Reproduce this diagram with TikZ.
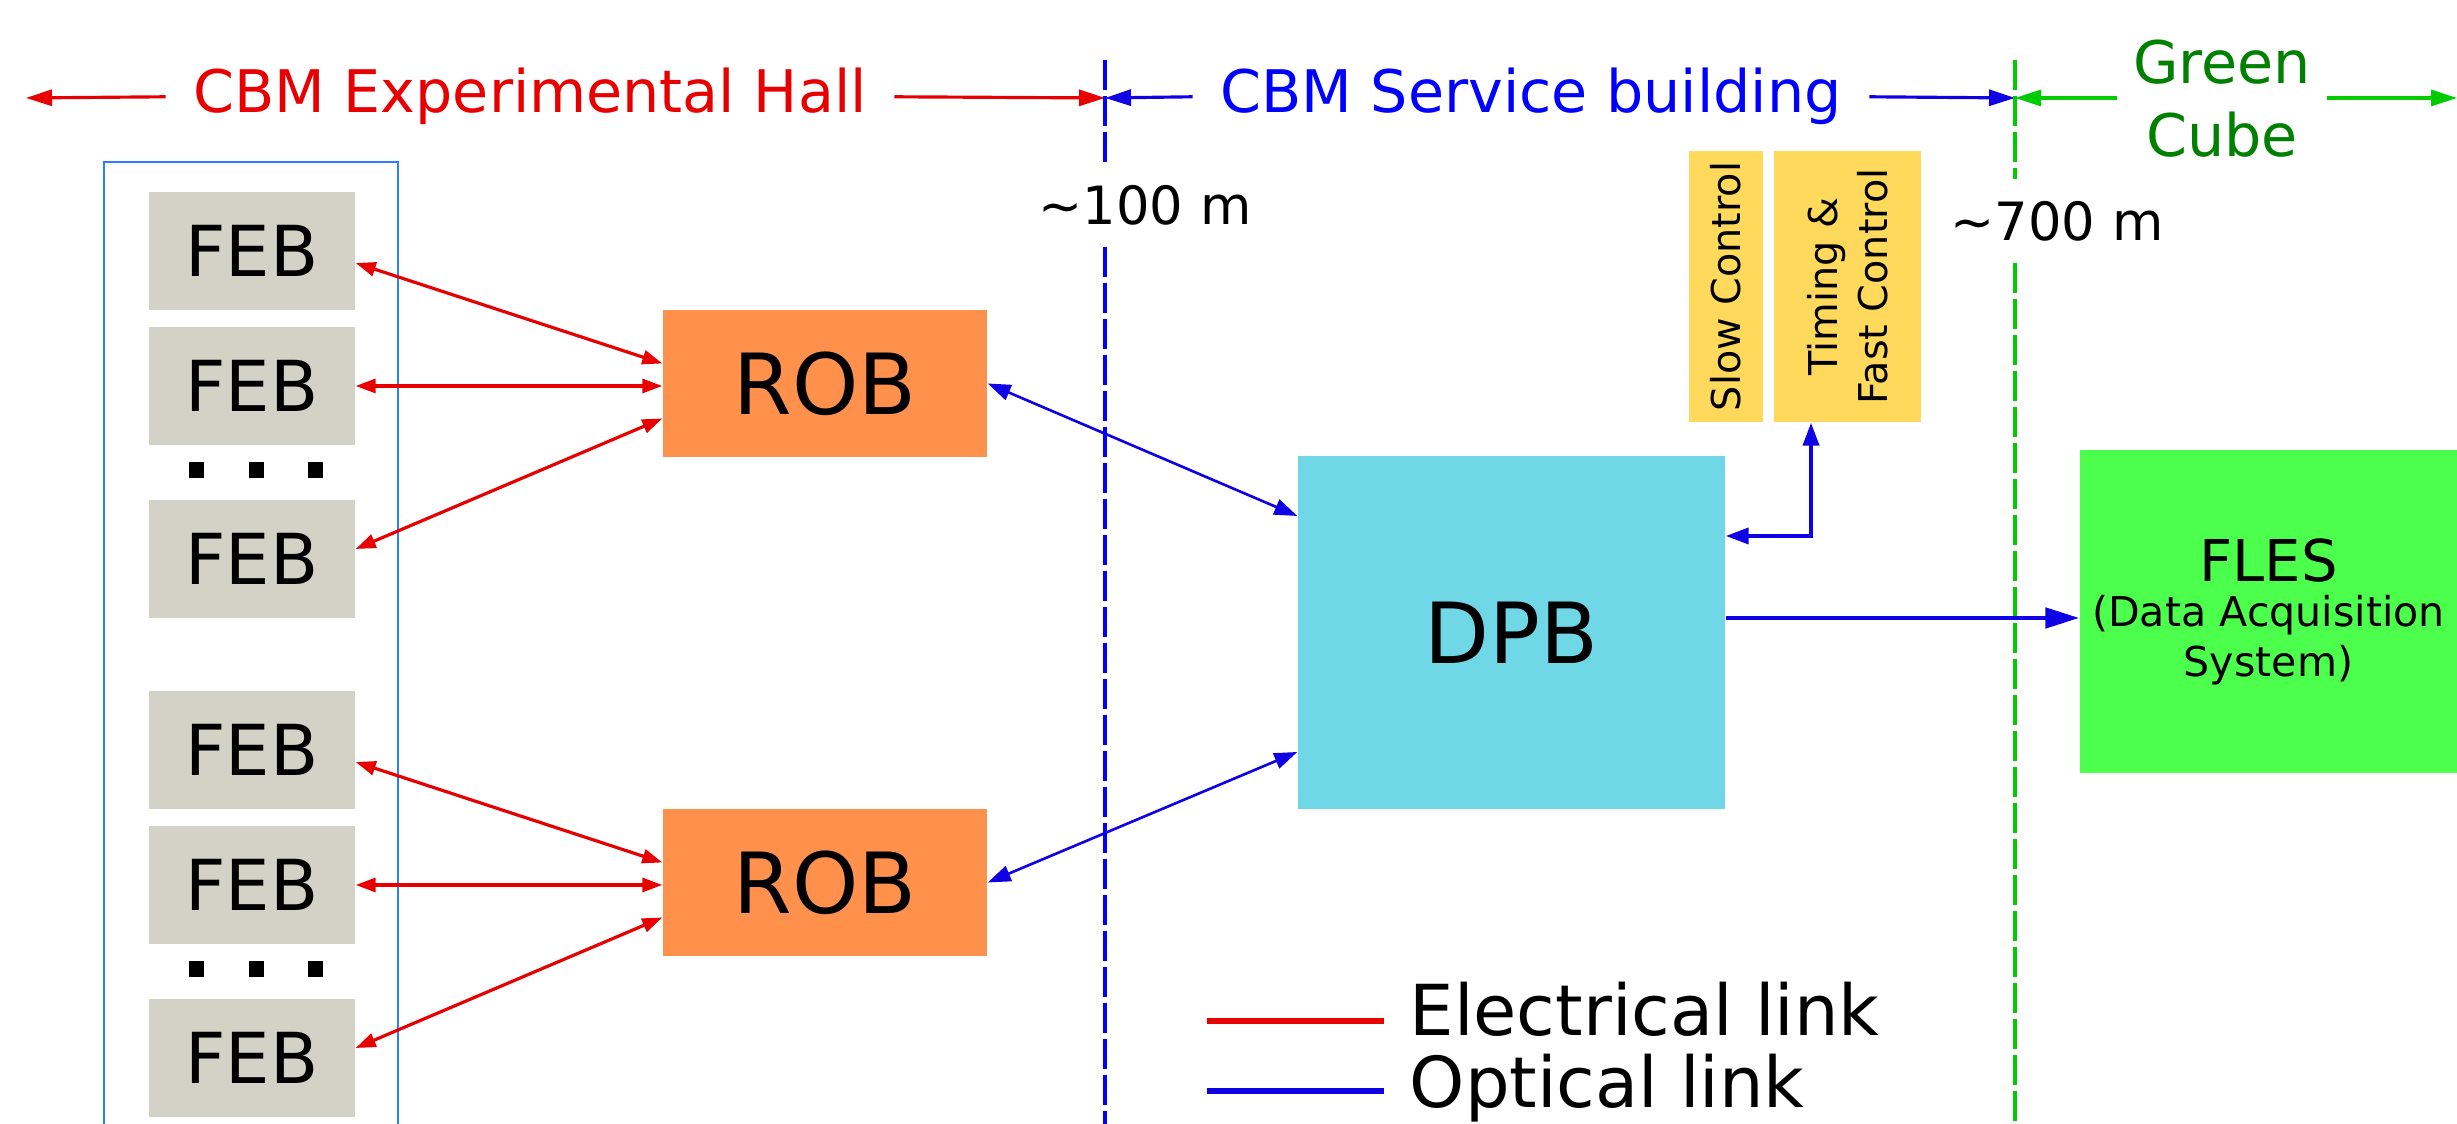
\documentclass[tikz,border=0pt]{standalone}
\usepackage{fontspec}
\setmainfont{DejaVu Sans}
\usetikzlibrary{arrows.meta, positioning, calc}
\definecolor{elecred}{HTML}{E80000}
\definecolor{optblue}{HTML}{1000E6}
\definecolor{titleblue}{HTML}{0000FF}
\definecolor{cubegreen}{HTML}{008000}
\definecolor{linegreen}{HTML}{00CC00}
\definecolor{frameblue}{HTML}{2A7FFF}
\definecolor{febgray}{HTML}{D2D3C6}
\definecolor{roborange}{HTML}{FF914D}
\definecolor{dpbcyan}{HTML}{70D7E7}
\definecolor{ctrlyellow}{HTML}{FFD95C}
\definecolor{flesgreen}{HTML}{4CFF4C}
\tikzset{
	febbox/.style={fill=febgray, minimum width=2.06cm, minimum height=1.18cm, inner sep=0pt, font=\fontsize{20}{24}\selectfont},
	robbox/.style={fill=roborange, minimum width=3.24cm, minimum height=1.47cm, inner sep=0pt, font=\fontsize{24}{29}\selectfont},
	dpbbox/.style={fill=dpbcyan, minimum width=4.27cm, minimum height=3.53cm, inner sep=0pt, font=\fontsize{24}{29}\selectfont},
	ctrlbox/.style={fill=ctrlyellow, rotate=90, minimum width=2.71cm, inner sep=0pt, font=\fontsize{11.3}{14.2}\selectfont},
	flesbox/.style={fill=flesgreen, minimum width=3.77cm, minimum height=3.23cm, inner sep=0pt, align=center, font=\fontsize{11.7}{14.2}\selectfont}
}
\tikzset{
	zonelabel/.style={font=\fontsize{16.7}{20.8}\selectfont, inner xsep=0.27cm, inner ysep=0pt},
	distlabel/.style={font=\fontsize{15}{18}\selectfont, inner xsep=0pt, inner ysep=6pt},
	legendtext/.style={font=\fontsize{20}{24}\selectfont, inner sep=0pt, anchor=base west}
}
\tikzset{
	zonearrow/.style={line width=0.9pt, -{Triangle[length=2.6mm,width=1.6mm]}},
	borderline/.style={line width=1.1pt, dash pattern=on 3mm off 0.6mm},
	elecarrow/.style={elecred, line width=0.9pt, {Triangle[length=2mm,width=1.4mm]}-{Triangle[length=2mm,width=1.4mm]}},
	optarrow/.style={optblue, line width=0.75pt, {Triangle[length=2.3mm,width=1.6mm]}-{Triangle[length=2.3mm,width=1.6mm]}},
	daqarrow/.style={optblue, line width=1.4pt, -{Triangle[length=3.4mm,width=2mm]}}
}
\begin{document}
\begin{tikzpicture}
	\useasboundingbox (0,0) rectangle (24.57,11.24);

	% zones on top
	\node[zonelabel, elecred, anchor=base] (hall) at (5.30,10.11) {CBM Experimental Hall};
	\node[zonelabel, titleblue, anchor=base] (service) at (15.31,10.11) {CBM Service building};
	\node[zonelabel, cubegreen, align=center, inner xsep=0.15cm] (cube) at (22.22,10.25) {Green\\Cube};

	\coordinate (hallend) at (0.26,10.26);
	\coordinate (borderA) at (11.05,10.26);
	\coordinate (borderB) at (20.15,10.26);
	\coordinate (cubeend) at (24.57,10.26);

	\draw[zonearrow, elecred] (hall.west) -- (hallend);
	\draw[zonearrow, elecred] (hall.east) -- (borderA);
	\draw[zonearrow, optblue] (service.west) -- (borderA);
	\draw[zonearrow, optblue] (service.east) -- (borderB);
	\draw[zonearrow, linegreen] (cube.west |- borderB) -- (borderB);
	\draw[zonearrow, linegreen] (cube.east |- borderB) -- (cubeend);

	% borders
	\node[distlabel] (dist1) at (11.45,9.19) {\textasciitilde100 m};
	\node[distlabel] (dist2) at (20.57,9.03) {\textasciitilde700 m};
	\coordinate (borderAtop) at (11.05,10.64);
	\coordinate (borderAbot) at (11.05,-0.1);
	\coordinate (borderBtop) at (20.15,10.64);
	\coordinate (borderBbot) at (20.15,-0.1);
	\draw[borderline, titleblue] (borderAtop) -- (borderAtop |- dist1.north);
	\draw[borderline, titleblue] (borderAtop |- dist1.south) -- (borderAbot);
	\draw[borderline, linegreen] (borderBtop) -- (borderBtop |- dist2.north);
	\draw[borderline, linegreen] (borderBtop |- dist2.south) -- (borderBbot);

	% front end boards
	\draw[frameblue, line width=0.8pt] (1.04,-0.3) rectangle (3.98,9.62);

	\foreach \g/\dy in {a/0, b/-4.99}{
		\begin{scope}[yshift=\dy cm]
			\node[febbox] (feb\g1) at (2.52,8.73) {FEB};
			\node[febbox] (feb\g2) at (2.52,7.38) {FEB};
			\node[febbox] (feb\g3) at (2.52,5.65) {FEB};
			\foreach \x in {1.96,2.56,3.15}
				\fill (\x-0.075,6.46) rectangle ++(0.15,0.16);
			\node[robbox] (rob\g) at (8.25,7.405) {ROB};
		\end{scope}
		\draw[elecarrow] ([yshift=-1.2mm]feb\g1.east) -- ([yshift=2mm]rob\g.west);
		\draw[elecarrow] (feb\g2.east) -- (feb\g2.east -| rob\g.west);
		\draw[elecarrow] ([yshift=1mm]feb\g3.east) -- ([yshift=-3.5mm]rob\g.west);
	}

	% service building and green cube
	\node[dpbbox] (dpb) at (15.115,4.915) {DPB};
	\node[ctrlbox, minimum height=0.74cm] (slow) at (17.26,8.375) {Slow Control};
	\node[ctrlbox, minimum height=1.47cm, align=center] (tfc) at (18.475,8.375) {Timing \&\\Fast Control};
	\node[flesbox] (fles) at (22.685,5.125) {{\fontsize{16.4}{16.4}\selectfont FLES}\\[-1.4pt](Data Acquisition\\System)};

	\draw[optarrow] (roba.east) -- ([yshift=11.65mm]dpb.west);
	\draw[optarrow] (robb.east) -- ([yshift=-11.95mm]dpb.west);
	\draw[optarrow, line width=1.1pt] ([xshift=-3.65mm]tfc.west) |- ([yshift=9.65mm]dpb.east);
	\draw[daqarrow] ([yshift=1.45mm]dpb.east) -- ([yshift=1.45mm]dpb.east -| fles.west);

	% legend
	\coordinate (legel) at (12.07,1.03);
	\coordinate (legopt) at (12.07,0.33);
	\draw[elecred, line width=1.7pt] (legel) -- ++(1.77,0);
	\draw[optblue, line width=1.7pt] (legopt) -- ++(1.77,0);
	\node[legendtext] (legeltext) at (14.09,0.88) {Electrical link};
	\node[legendtext] (legopttext) at (14.09,0.16) {Optical link};

\end{tikzpicture}
\end{document}
